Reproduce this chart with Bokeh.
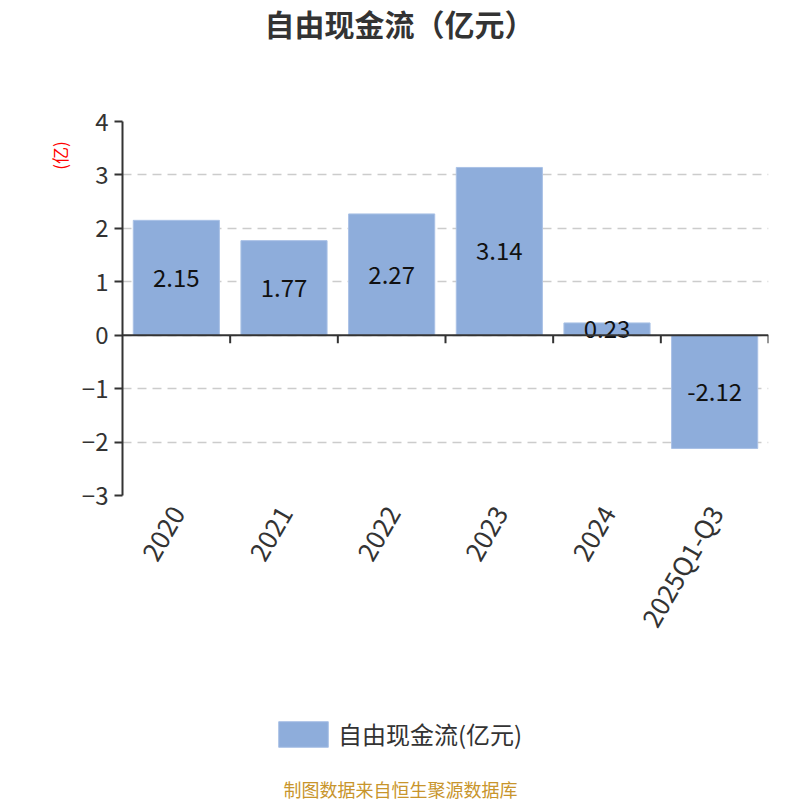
import math
import numpy as np
from bokeh.plotting import figure
from bokeh.models import (Range1d, FixedTicker, Span, Label, Legend, LegendItem,
                          ColumnDataSource)
from bokeh.layouts import column, row
from bokeh.core.properties import value
from bokeh.embed import file_html
from bokeh.resources import INLINE

categories = ["2020", "2021", "2022", "2023", "2024", "2025Q1-Q3"]
values = [2.15, 1.77, 2.27, 3.14, 0.23, -2.12]
y_ticks = [-3, -2, -1, 0, 1, 2, 3, 4]
title_text = "自由现金流（亿元）"
series_name = "自由现金流(亿元)"
unit_text = "(亿)"
footer_text = "制图数据来自恒生聚源数据库"

FONT = "Noto Sans CJK SC"
BAR = "#8eaddb"
BAR_EDGE = "#a9c1e6"
DARK = "#333333"

n = len(categories)
xs = np.arange(n) + 0.5
vals = np.array(values)


def blank(w, h):
    f = figure(width=w, height=h, output_backend="svg", toolbar_location=None,
               x_axis_type=None, y_axis_type=None, min_border=0,
               x_range=Range1d(0, 1), y_range=Range1d(0, 1))
    f.outline_line_color = None
    return f


# ---- top strip: title
top = blank(800, 100)
top.add_layout(Label(x=399, y=78, x_units="screen", y_units="screen", text=title_text,
                     text_align="center", text_baseline="middle", text_font=FONT,
                     text_font_size="30px", text_font_style="bold", text_color=DARK))

# ---- left strip: unit label (frame is aligned with the chart frame in the row)
left = blank(78, 560)
left.add_layout(Label(x=59, y=340, x_units="screen", y_units="screen", text=unit_text,
                      angle=math.pi / 2, text_align="center", text_baseline="middle",
                      text_color="red", text_font=FONT, text_font_size="17px"))

# ---- main chart
p = figure(width=722, height=560, output_backend="svg", toolbar_location=None,
           x_range=Range1d(0, n), y_range=Range1d(min(y_ticks), max(y_ticks)),
           min_border_left=43, min_border_right=32, min_border_top=21, min_border_bottom=165)
p.outline_line_color = None

src = ColumnDataSource(dict(x=xs, top=vals, ly=vals / 2, lab=[f"{v:.2f}" for v in values]))
bars = p.vbar(x="x", top="top", bottom=0, width=0.8, source=src,
              fill_color=BAR, line_color=BAR_EDGE, line_width=1)
p.text(x="x", y="ly", text="lab", source=src, text_align="center", text_baseline="middle",
       text_font=value(FONT), text_font_size="24px", text_color="#111111")

p.xgrid.visible = False
p.ygrid.ticker = FixedTicker(ticks=y_ticks)
p.ygrid.grid_line_color = "#cccccc"
p.ygrid.grid_line_dash = "9 6"
p.ygrid.grid_line_width = 1.5

p.yaxis.ticker = FixedTicker(ticks=y_ticks)
p.yaxis.axis_line_color = DARK
p.yaxis.axis_line_width = 2
p.yaxis.major_tick_line_color = DARK
p.yaxis.major_tick_line_width = 2
p.yaxis.major_tick_in = 0
p.yaxis.major_tick_out = 8
p.yaxis.minor_tick_line_color = None
p.yaxis.major_label_text_font = FONT
p.yaxis.major_label_text_font_size = "24px"
p.yaxis.major_label_text_color = DARK
p.yaxis.major_label_standoff = 6

p.xaxis.ticker = FixedTicker(ticks=list(xs))
p.xaxis.major_label_overrides = {float(x): c for x, c in zip(xs, categories)}
p.xaxis.axis_line_color = None
p.xaxis.major_tick_line_color = None
p.xaxis.minor_tick_line_color = None
p.xaxis.major_label_orientation = math.pi / 3
p.xaxis.major_label_text_font = FONT
p.xaxis.major_label_text_font_size = "26px"
p.xaxis.major_label_text_color = DARK
p.xaxis.major_label_standoff = 6

p.add_layout(Span(location=0, dimension="width", line_color=DARK, line_width=2))
bx = np.arange(1, n + 1)
p.segment(x0=bx, y0=np.zeros(n), x1=bx, y1=np.full(n, -0.15), line_color=DARK, line_width=2)

# ---- bottom strip: legend + source note
bottom = blank(800, 140)
# legend proxy renderer: a single NaN bar, so only its legend swatch is drawn
proxy = bottom.vbar(x=[float("nan")], top=[float("nan")], width=1,
                    fill_color=BAR, line_color=BAR_EDGE)
legend = Legend(items=[LegendItem(label=series_name, renderers=[proxy])],
                location=(272, 49), orientation="horizontal",
                glyph_width=62, glyph_height=32, label_height=32, label_standoff=4,
                label_text_font=FONT, label_text_font_size="24px",
                label_text_color=DARK, label_text_baseline="middle",
                border_line_color=None, background_fill_alpha=0, margin=0, padding=0)
bottom.add_layout(legend, "center")
bottom.add_layout(Label(x=400, y=12, x_units="screen", y_units="screen", text=footer_text,
                        text_align="center", text_baseline="middle", text_font=FONT,
                        text_font_size="18px", text_color="#c8952c"))

layout = column(top, row(left, p), bottom)
open("out.html", "w").write(file_html(layout, INLINE))
